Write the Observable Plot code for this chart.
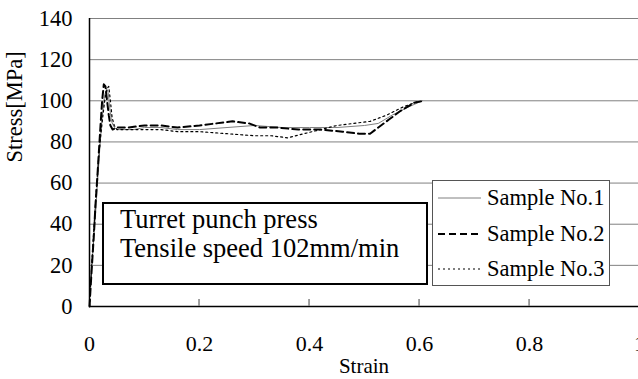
<!DOCTYPE html>
<html>
<head>
<meta charset="utf-8">
<script src="https://cdn.jsdelivr.net/npm/d3@7"></script>
<script src="https://cdn.jsdelivr.net/npm/@observablehq/plot@0.6"></script>
<style>
  html, body { margin: 0; padding: 0; background: #fff; overflow: hidden; }
  #wrap { position: relative; width: 638px; height: 379px; font-family: "Liberation Serif", "Times New Roman", serif; color: #000; }
  #wrap svg, #wrap svg text { font-family: "Liberation Serif", "Times New Roman", serif !important; }
  #note { position: absolute; left: 102px; top: 202px; width: 322px; height: 79px; border: 2px solid #000; background: #fff; }
  #note div { position: absolute; left: 16px; font-size: 26.5px; line-height: 1; white-space: nowrap; }
  #legend { position: absolute; left: 432px; top: 180px; width: 176px; height: 104px; border: 1px solid #555; background: #fff; }
  .item { position: absolute; left: 0; height: 30px; width: 176px; }
  .item svg { position: absolute; left: 5px; top: 0; }
  .item span { position: absolute; left: 54px; top: 3px; font-size: 22.5px; line-height: 24px; white-space: nowrap; }
</style>
</head>
<body>
<div id="wrap"></div>
<script>
// ---- data ----
const seriesNames = ["Sample No.1", "Sample No.2", "Sample No.3"];
const yTicks = [0, 20, 40, 60, 80, 100, 120, 140];
const xTicks = [0, 0.2, 0.4, 0.6, 0.8, 1.0];
const noteLines = ["Turret punch press", "Tensile speed 102mm/min"];

const strain1 = [0, 0.003, 0.007, 0.011, 0.015, 0.019, 0.023, 0.027, 0.031, 0.034, 0.037, 0.04, 0.045, 0.05, 0.06, 0.08, 0.1, 0.13, 0.16, 0.2, 0.25, 0.3, 0.35, 0.4, 0.45, 0.5, 0.525, 0.55, 0.58, 0.605];
const stress1 = [5, 15, 30, 45, 62, 78, 92, 102, 106, 104, 96, 90, 87, 86, 86, 86, 87, 87, 86, 86, 87, 88, 87, 87, 87, 88, 89, 93, 97, 100];

const strain2 = [0, 0.004, 0.008, 0.011, 0.014, 0.017, 0.02, 0.023, 0.026, 0.029, 0.032, 0.035, 0.038, 0.042, 0.05, 0.07, 0.1, 0.13, 0.16, 0.2, 0.23, 0.26, 0.29, 0.31, 0.34, 0.38, 0.42, 0.46, 0.49, 0.51, 0.525, 0.545, 0.565, 0.59, 0.608];
const stress2 = [0, 18, 35, 50, 62, 75, 88, 100, 108, 107, 100, 93, 88, 86, 87, 87, 88, 88, 87, 88, 89, 90, 89, 87, 87, 86, 86, 85, 84, 84, 87, 91, 95, 99, 100];

const strain3 = [0, 0.004, 0.008, 0.012, 0.016, 0.02, 0.024, 0.028, 0.032, 0.035, 0.038, 0.041, 0.045, 0.05, 0.07, 0.1, 0.13, 0.16, 0.2, 0.25, 0.3, 0.33, 0.36, 0.39, 0.42, 0.45, 0.48, 0.51, 0.54, 0.57, 0.6];
const stress3 = [0, 20, 38, 55, 70, 82, 92, 101, 106, 107, 100, 92, 88, 86, 86, 86, 86, 85, 85, 84, 83, 83, 82, 84, 86, 88, 89, 90, 93, 97, 100];

const toRows = (xs, ys) => xs.map((x, i) => ({x, y: ys[i]}));
const s1 = toRows(strain1, stress1);
const s2 = toRows(strain2, stress2);
const s3 = toRows(strain3, stress3);

const styles = [
  {stroke: "#808080", strokeWidth: 1, dash: null},
  {stroke: "#000", strokeWidth: 2, dash: "7,4"},
  {stroke: "#000", strokeWidth: 1.2, dash: "2,3"}
];

const font = "'Liberation Serif', 'Times New Roman', serif";

const chart = Plot.plot({
  width: 638,
  height: 379,
  marginLeft: 89,
  marginRight: 0,
  marginTop: 18,
  marginBottom: 73,
  style: {fontFamily: font, fontSize: "22px", background: "transparent", overflow: "visible"},
  x: {domain: [0, 0.998]},
  y: {domain: [0, 140]},
  marks: [
    Plot.ruleY(yTicks.filter(d => d > 0), {stroke: "#808080", strokeWidth: 1}),
    Plot.axisX(xTicks, {tickSize: 0, tickPadding: 29, fontSize: 22, label: null, tickFormat: d => String(d), fill: "#000"}),
    Plot.axisY(yTicks, {tickSize: 0, tickPadding: 17, fontSize: 22.5, label: null, fill: "#000"}),
    Plot.text(["Strain"], {frameAnchor: "bottom", dy: 60, fontSize: 21, lineAnchor: "middle", fill: "#000"}),
    Plot.text(["Stress[MPa]"], {frameAnchor: "left", dx: -75, rotate: -90, fontSize: 22.5, lineAnchor: "middle", fill: "#000"}),
    Plot.line(s1, {x: "x", y: "y", stroke: styles[0].stroke, strokeWidth: styles[0].strokeWidth}),
    Plot.line(s2, {x: "x", y: "y", stroke: styles[1].stroke, strokeWidth: styles[1].strokeWidth, strokeDasharray: styles[1].dash}),
    Plot.line(s3, {x: "x", y: "y", stroke: styles[2].stroke, strokeWidth: styles[2].strokeWidth, strokeDasharray: styles[2].dash}),
    Plot.ruleY([0], {stroke: "#000", strokeWidth: 1.5}),
    Plot.ruleX([0], {stroke: "#000", strokeWidth: 1.5})
  ]
});

const wrap = document.getElementById("wrap");
wrap.appendChild(chart);

// inward x-axis ticks drawn through the chart's own scales
const xs = chart.scale("x"), ys = chart.scale("y");
const y0 = ys.apply(0);
d3.select(chart).append("g")
  .selectAll("line")
  .data(xTicks.filter(d => d > 0))
  .join("line")
  .attr("x1", d => xs.apply(d)).attr("x2", d => xs.apply(d))
  .attr("y1", y0).attr("y2", y0 - 7)
  .attr("stroke", "#808080").attr("stroke-width", 1.5);

// text box
const note = document.createElement("div");
note.id = "note";
noteLines.forEach((t, i) => {
  const d = document.createElement("div");
  d.textContent = t;
  d.style.top = (2 + i * 29) + "px";
  note.appendChild(d);
});
wrap.appendChild(note);

// legend
const legend = document.createElement("div");
legend.id = "legend";
seriesNames.forEach((name, i) => {
  const item = document.createElement("div");
  item.className = "item";
  item.style.top = (2 + i * 35.5) + "px";
  const st = styles[i];
  item.innerHTML = `<svg width="44" height="30"><line x1="0" x2="43" y1="15" y2="15" stroke="${st.stroke}" stroke-width="${st.strokeWidth}" ${st.dash ? `stroke-dasharray="${st.dash}"` : ""}/></svg><span>${name}</span>`;
  legend.appendChild(item);
});
wrap.appendChild(legend);
</script>
</body>
</html>
